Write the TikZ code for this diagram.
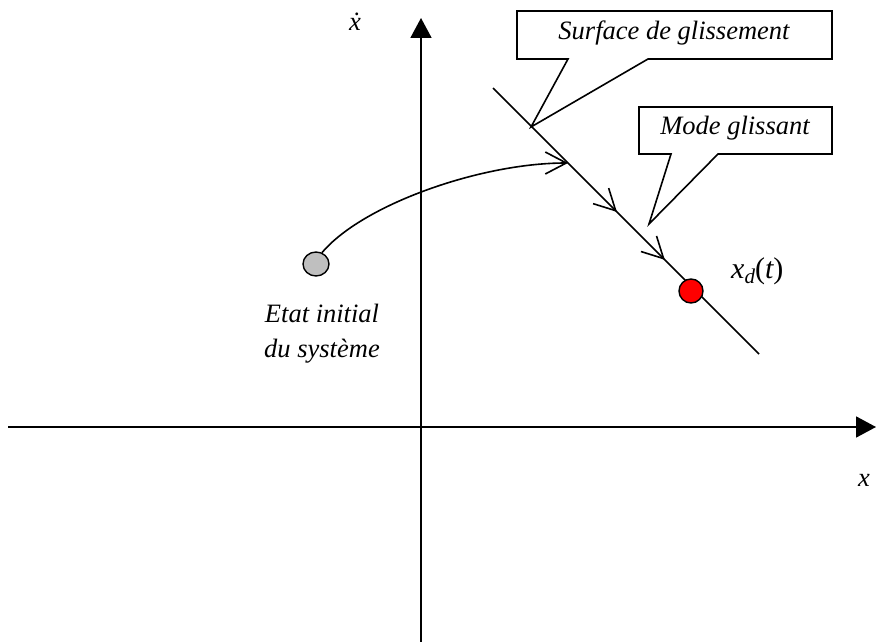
\documentclass[tikz,border=0pt]{standalone}
\usepackage{fontspec}
\setmainfont{Liberation Serif}
\usetikzlibrary{arrows.meta,decorations.markings,shapes.geometric}
\tikzset{mybarb/.tip={Straight Barb[length=21pt,width=22pt,line width=1.6pt]}}
\begin{document}
\begin{tikzpicture}[x=1pt,y=-1pt,
  axisline/.style={line width=1.8pt,-{Triangle[length=20pt,width=21pt]}},
  thin line/.style={line width=1.6pt},
  lbl/.style={font=\fontsize{26.5}{30}\selectfont\itshape, inner sep=0pt},
  callout/.style={draw, fill=white, line width=1.6pt, line join=miter},
  dot/.style={ellipse, draw, line width=1.4pt, inner sep=0pt}]
\useasboundingbox (0,0) rectangle (876,642);
% axes
\coordinate (yb) at (421,642);
\coordinate (yt) at (421,18);
\coordinate (xl) at (8,427);
\coordinate (xr) at (876,427);
\draw[axisline] (yb) -- (yt);
\draw[axisline] (xl) -- (xr);
\node[lbl] (xdot) at (355,22) {\.{x}};
\node[lbl] (xlab) at (864,480) {x};
% sliding surface
\coordinate (sA) at (493,88);
\coordinate (sB) at (759,354);
\draw[thin line, decoration={markings,
    mark=at position 0.466 with {\arrow{mybarb}},
    mark=at position 0.646 with {\arrow{mybarb}}},
  postaction={decorate}] (sA) -- (sB);
% points
\node[dot, fill=black!25, minimum width=26pt, minimum height=24pt] (ini) at (316,264) {};
\node[dot, fill=red, minimum width=24pt, minimum height=24pt] (xd) at (691,291) {};
% trajectory
\coordinate (m1) at (568,163);
\draw[thin line, -mybarb]
  (ini.62) .. controls (362,205) and (480,163) .. (m1);
% labels
\node[lbl, font=\fontsize{30}{34}\selectfont\itshape, anchor=base west] (xdl) at (731,278)
  {x\raisebox{-0.4ex}{\fontsize{21}{21}\selectfont d}\upshape(\itshape t\upshape)};
\node[lbl, align=center] (ini lbl) at (322,334) {Etat initial\\[5pt]du système};
% callout 1
\coordinate (t1) at (531,127);
\draw[callout] (517,11) -- (832,11) -- (832,59) -- (648,59) -- (t1) -- (568,59) -- (517,59) -- cycle;
\node[lbl] (c1) at (674,33) {Surface de glissement};
% callout 2
\coordinate (t2) at (649,224);
\draw[callout] (639,107) -- (832,107) -- (832,154) -- (718,154) -- (t2) -- (671,154) -- (639,154) -- cycle;
\node[lbl] (c2) at (735,128) {Mode glissant};
\end{tikzpicture}
\end{document}
